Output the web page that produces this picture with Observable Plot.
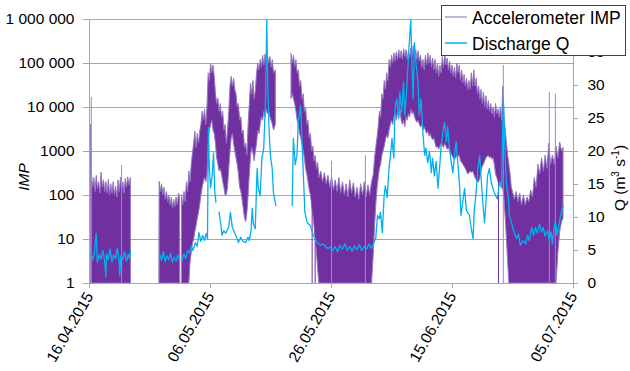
<!DOCTYPE html>
<html><head><meta charset="utf-8">
<script src="https://cdn.jsdelivr.net/npm/d3@7"></script>
<script src="https://cdn.jsdelivr.net/npm/@observablehq/plot@0.6"></script>
<style>
body{margin:0;background:#fff;font-family:"Liberation Sans",Arial,sans-serif;}
#wrap{position:relative;width:630px;height:371px;overflow:hidden;}
</style></head>
<body><div id="wrap"></div>
<script>
// ---- data (days after 16.04.2015) ----
const startDate = Date.UTC(2015, 3, 16);
const xTickDays = [0, 20, 40, 60, 80];
const yTicks = [1, 10, 100, 1000, 10000, 100000, 1000000];
const yTickLabels = ["1", "10", "100", "1000", "10 000", "100 000", "1 000 000"];
const qTicks = [0, 5, 10, 15, 20, 25, 30, 35, 40];
const qTickLabels = [0, 5, 10, 15, 20, 25, 30, 35]; // the "40" label is hidden behind the legend
const seriesNames = ["Accelerometer IMP", "Discharge Q"];

// Accelerometer IMP envelope: [day, upper, lower]
const impBlock1 = [[0.25,4000,1],[0.4,300,1],[0.6,150,1],[0.8,250,1],[1.0,120,1],[1.2,280,1],[1.4,140,1],[1.6,200,1],[1.8,110,1],[2.0,330,1],[2.2,150,1],[2.4,220,1],[2.6,120,1],[2.8,200,1],[3.0,110,1],[3.2,230,1],[3.4,100,1],[3.6,180,1],[3.8,110,1],[4.0,200,1],[4.2,100,1],[4.4,160,1],[4.6,90,1],[4.8,220,1],[5.0,120,1],[5.2,250,1],[5.4,130,1],[5.6,200,1],[5.8,110,1],[6.0,240,1],[6.2,150,1],[6.4,260,1],[6.6,170,1],[6.85,250,1]];
const impBlock2 = [[11.6,200,1],[11.8,120,1],[12.0,180,1],[12.2,100,1],[12.4,150,1],[12.6,80,1],[12.8,120,1],[13.0,70,1],[13.2,100,1],[13.4,60,1],[13.6,90,1],[13.8,50,1],[14.0,80,1],[14.2,55,1],[14.4,90,1],[14.6,60,1],[14.8,110,1],[14.95,90,1]];
const impBlock3 = [[15.3,100,1],[15.5,60,1],[15.7,120,1],[15.9,70,1],[16.1,200,1],[16.3,120,1],[16.5,350,1],[16.7,200,3],[16.9,500,5],[17.1,900,8],[17.3,1500,10],[17.5,2800,15],[17.7,1200,20],[17.9,2500,30],[18.1,1500,40],[18.3,2800,60],[18.5,4000,100],[18.7,8000,150],[18.9,5000,200],[19.1,9000,250],[19.3,4000,200],[19.5,10000,300],[19.7,60000,1500],[19.9,40000,3000],[20.1,100000,4000],[20.3,60000,5000],[20.5,90000,3000],[20.7,50000,2500],[20.9,20000,1500],[21.1,12000,700],[21.3,16000,500],[21.5,8000,350],[21.7,12000,400],[21.9,6000,300],[22.1,8000,200],[22.3,3000,150],[22.5,4000,100],[22.7,1500,100],[22.9,3000,150],[23.1,8000,400],[23.3,30000,1000],[23.5,50000,2000],[23.7,30000,2500],[23.9,45000,1500],[24.1,25000,1000],[24.3,20000,700],[24.5,10000,500],[24.7,12000,300],[24.9,5000,150],[25.1,6000,120],[25.3,2500,80],[25.5,3000,50],[25.7,1200,30],[25.9,1500,25],[26.1,800,40],[26.3,4000,100],[26.5,12000,300],[26.7,35000,800],[26.9,20000,1200],[27.1,40000,900],[27.3,15000,600],[27.5,25000,1000],[27.7,60000,1500],[27.9,100000,3000],[28.1,70000,2500],[28.3,120000,4000],[28.5,80000,6000],[28.7,150000,5000],[28.9,90000,8000],[29.1,160000,6000],[29.3,110000,9000],[29.5,150000,7000],[29.7,100000,8000],[29.9,140000,6000],[30.1,80000,5000],[30.3,120000,4000],[30.5,60000,3000],[30.8,70000,4000]];
const impBlock4 = [[33.4,160000,16000],[33.6,100000,20000],[33.8,150000,15000],[34.0,80000,12000],[34.2,120000,8000],[34.4,60000,5000],[34.6,70000,4000],[34.8,30000,2500],[35.0,40000,2000],[35.2,15000,1500],[35.4,20000,1000],[35.6,8000,700],[35.8,10000,400],[36.0,4000,300],[36.2,5000,200],[36.4,2000,130],[36.6,2500,100],[36.8,1000,60],[37.0,1300,35],[37.2,600,20],[37.4,800,10],[37.6,400,5],[37.8,550,2],[38.0,250,1],[38.3,350,1],[38.6,200,1],[38.9,320,1],[39.2,180,1],[39.5,280,1],[39.8,150,1],[40.1,260,1],[40.4,130,1],[40.7,220,1],[41.0,120,1],[41.3,250,1],[41.6,110,1],[41.9,200,1],[42.2,100,1],[42.5,180,1],[42.8,90,1],[43.1,220,1],[43.4,110,1],[43.7,190,1],[44.0,90,1],[44.3,150,1],[44.6,80,1],[44.9,180,1],[45.2,100,1],[45.5,200,1],[45.8,90,1],[46.1,170,1],[46.4,100,1],[46.7,200,1],[47.0,300,5],[47.2,700,20],[47.4,1200,60],[47.6,2000,140],[47.8,3500,250],[48.0,8000,400],[48.2,6000,500],[48.4,20000,800],[48.6,15000,1000],[48.8,40000,1300],[49.0,25000,1800],[49.2,60000,2300],[49.4,40000,2000],[49.6,120000,3000],[49.8,80000,4000],[50.0,150000,5000],[50.2,100000,4000],[50.4,170000,6000],[50.6,110000,7000],[50.8,180000,5000],[51.0,120000,8000],[51.2,200000,6000],[51.4,130000,9000],[51.6,190000,5000],[51.8,120000,4000],[52.0,210000,5000],[52.2,140000,3500],[52.4,200000,6000],[52.6,120000,5000],[52.8,190000,7000],[53.0,130000,6000],[53.2,220000,9000],[53.4,150000,7000],[53.6,250000,8000],[53.8,140000,6000],[54.0,200000,5000],[54.2,120000,4500],[54.4,190000,5000],[54.6,110000,4000],[54.8,150000,3500],[55.0,80000,4000],[55.2,120000,3000],[55.4,70000,3500],[55.6,150000,3000],[55.8,90000,2500],[56.0,170000,2800],[56.2,100000,2200],[56.4,150000,2500],[56.6,80000,2000],[56.8,130000,1800],[57.0,70000,2000],[57.2,120000,1500],[57.4,60000,1200],[57.6,100000,1300],[57.8,50000,1100],[58.0,90000,1300],[58.2,60000,1500],[58.4,140000,1400],[58.6,80000,1200],[58.8,160000,1500],[59.0,90000,1300],[59.2,130000,1100],[59.4,70000,1200],[59.6,110000,1000],[59.8,60000,900],[60.0,90000,800],[60.2,50000,700],[60.4,80000,650],[60.6,45000,700],[60.8,100000,800],[61.0,60000,750],[61.2,90000,800],[61.4,40000,600],[61.6,70000,550],[61.8,35000,500],[62.0,55000,450],[62.2,30000,400],[62.4,45000,350],[62.6,25000,300],[62.8,40000,320],[63.0,25000,350],[63.2,60000,330],[63.4,30000,350],[63.6,70000,300],[63.8,30000,250],[64.0,45000,220],[64.2,20000,200],[64.4,30000,200],[64.6,15000,250],[64.8,25000,350],[65.0,12000,450],[65.2,22000,500],[65.4,10000,600],[65.6,18000,700],[65.8,9000,750],[66.0,14000,800],[66.2,8000,700],[66.4,12000,750],[66.6,7000,650],[66.8,10000,700],[67.0,6000,500],[67.2,12000,300],[67.4,7000,250],[67.6,9000,200],[67.8,6000,200],[68.0,10000,170],[68.2,5000,150],[68.4,30000,140],[68.6,6000,80],[68.8,3000,30],[69.0,1500,10],[69.2,800,3],[69.4,500,1],[69.6,300,1],[69.8,150,1],[70.0,120,1],[70.3,80,1],[70.6,120,1],[70.9,70,1],[71.2,110,1],[71.5,60,1],[71.8,100,1],[72.1,60,1],[72.4,90,1],[72.7,70,1],[73.0,130,1],[73.3,90,1],[73.6,250,1],[73.9,150,1],[74.2,500,1],[74.5,300,1],[74.8,700,1],[75.1,350,1],[75.4,800,1],[75.7,400,1],[76.0,1500,1],[76.3,500,1],[76.6,800,1],[76.9,500,1],[77.2,1300,1],[77.5,700,5],[77.8,1600,15],[78.1,1000,25],[78.35,1200,30]];
// isolated IMP peaks: [day, peak]
const impPeaks = [[0.3,17000],[5.3,480],[40,600],[45.6,800],[68.4,90000],[76,22000],[77,20000]];
// isolated IMP drops to the baseline: [day, from]
const impDrops = [[36.8,600],[37.3,400],[67.6,3000]];

// Discharge Q (m3/s): [day, Q]
const qSeg1 = [[0.2,4.8],[0.5,3.6],[0.8,4.6],[1.1,7.6],[1.3,3.2],[1.6,4.4],[1.9,3.7],[2.2,5.0],[2.5,3.4],[2.7,1.0],[2.8,4.5],[3.1,3.6],[3.4,5.2],[3.7,3.3],[4.0,4.3],[4.3,3.8],[4.6,5.4],[4.9,3.3],[5.0,1.2],[5.2,4.2],[5.5,3.6],[5.8,4.8],[6.1,3.4],[6.4,4.4],[6.6,3.8],[6.8,5.0]];
const qSeg2 = [[11.6,4.5],[11.9,3.5],[12.2,4.8],[12.5,3.3],[12.8,4.2],[13.1,3.6],[13.4,4.6],[13.7,3.2],[14.0,4.0],[14.3,3.4],[14.6,4.3],[14.9,3.6]];
const qSeg3 = [[15.3,3.5],[15.6,4.5],[15.9,3.8],[16.2,5.0],[16.5,4.6],[16.8,5.6],[17.1,5.0],[17.5,6.2],[17.8,5.6],[18.1,7.7],[18.4,6.4],[18.7,7.3],[19.0,6.5],[19.3,7.6],[19.5,6.8],[19.65,23.6],[19.8,18],[20.0,14.5],[20.3,16.5],[20.5,19.8],[20.7,14.0],[20.9,12.3]];
const qSeg4 = [[21.4,10.8],[21.7,9.0],[21.9,7.3],[22.2,8.0],[22.5,7.6],[23.0,8.5],[23.3,10.8],[23.6,8.5],[24.0,7.7],[24.4,6.8],[24.6,6.2],[25.0,7.0],[25.3,6.4],[25.8,6.2],[26.2,7.0],[26.4,6.5],[26.7,8.0],[26.9,11.4],[27.1,9.0],[27.4,8.3],[27.7,17.4],[27.9,14.5],[28.2,13.3],[28.5,19],[28.8,20.5],[29.1,28],[29.3,40],[29.45,30.4],[29.7,22.9],[29.9,19.4],[30.2,17.4],[30.4,13.8],[30.8,11.8]];
const qSeg5 = [[33.5,11.8],[33.7,22],[34.0,18],[34.3,19.5],[34.5,24.4],[34.9,27],[35.1,22],[35.4,15.3],[35.6,10.8],[36.0,9.2],[36.5,8.8],[37.0,7.3],[37.6,6.2],[38.2,5.8],[38.6,6.0],[39.0,5.6],[39.4,5.3],[39.8,5.5],[40.2,5.0],[40.6,5.6],[41.0,4.8],[41.4,5.8],[41.8,5.2],[42.2,6.0],[42.6,5.0],[43.0,5.6],[43.4,4.9],[43.8,5.7],[44.2,5.1],[44.6,5.9],[45.0,5.0],[45.4,5.6],[45.8,5.2],[46.2,6.0],[46.6,5.3],[47.0,6.2],[47.3,6.8],[47.6,10.3],[47.9,9.8],[48.1,10.8],[48.4,7.7],[48.7,13.3],[48.9,14.8],[49.2,13.0],[49.5,17.4],[49.7,19.0],[50.0,22],[50.3,19],[50.5,26.5],[50.8,28],[51.1,25],[51.3,29],[51.6,26],[51.9,30.5],[52.1,25.5],[52.4,29],[52.8,35.6],[53.1,40],[53.3,33],[53.5,28],[53.7,36.5],[54.0,33],[54.3,30.5],[54.5,25.5],[54.8,28],[55.1,22.9],[55.4,19.4],[55.6,20.5],[55.9,18.3],[56.2,20],[56.5,16.8],[56.7,19],[57.0,16.3],[57.3,18.5],[57.6,14.4],[57.9,18],[58.1,20.5],[58.4,22.9],[58.7,24.4],[59.0,21.5],[59.2,23.8],[59.5,20.5],[59.8,18.3],[60.05,16.8],[60.3,19],[60.6,21.5],[60.9,18],[61.2,14.4],[61.4,10.3],[61.7,12.4],[62.0,14.4],[62.3,11],[62.5,10.8],[62.8,10.3],[63.1,8.3],[63.4,6.8],[63.6,11],[63.9,13.8],[64.2,17.4],[64.5,19.4],[64.7,16.3],[65.0,12.3],[65.3,9.2],[65.6,13.3],[65.8,16.3],[66.1,17.4],[66.4,15.3],[66.7,14.4],[66.9,13.8],[67.4,12.8],[67.8,15.5],[68.1,14.5],[68.4,28],[68.7,19.4],[68.9,15.3],[69.3,12.3],[69.4,10.3],[69.7,9.4],[70.1,8.0],[70.6,6.8],[70.9,7.5],[71.2,5.8],[71.7,6.5],[72.1,6.0],[72.4,7.3],[72.7,6.5],[73.1,8.5],[73.4,7.3],[73.7,8.5],[74.0,7.6],[74.4,9.0],[74.7,7.8],[75.0,8.5],[75.3,7.2],[75.7,8.0],[76.0,6.6],[76.3,7.8],[76.5,6.0],[76.8,8.5],[77.0,9.5],[77.3,7.3],[77.5,8.3],[77.8,10.0],[78.0,10.8],[78.3,11.8]];

// ---- drawing ----
const day = t => new Date(startDate + t * 864e5);
// right axis: Q 0..40 shares the vertical extent of IMP 1..1e6
const qToY = q => Math.pow(10, q * 6 / 40);
const gray = "#a6a6a6";
const purple = "#7030a0";
const purpleLight = "#b49ad6";
const cyan = "#00b0f0";
const yLabel = new Map(yTicks.map((v, i) => [v, yTickLabels[i]]));
const fontFam = '"Liberation Sans", Arial, sans-serif';

const impBlocks = [impBlock1, impBlock2, impBlock3, impBlock4];
const qSegs = [qSeg1, qSeg2, qSeg3, qSeg4, qSeg5];

const plot = Plot.plot({
  width: 630, height: 371,
  marginLeft: 89, marginRight: 57, marginTop: 19, marginBottom: 88,
  style: {fontFamily: fontFam, fontSize: "15.5px", color: "#000", background: "#fff", overflow: "visible"},
  x: {type: "utc", domain: [day(0), day(80)]},
  y: {type: "log", domain: [1, 1e6]},
  marks: [
    Plot.gridY(yTicks, {stroke: gray, strokeOpacity: 1}),
    ...impBlocks.map(b => Plot.areaY(b, {x: d => day(d[0]), y1: d => d[2], y2: d => d[1], fill: purple, stroke: "#9676c2", strokeWidth: 1})),
    Plot.ruleX(impPeaks, {x: d => day(d[0]), y1: 1, y2: d => d[1], stroke: "#a584cc", strokeWidth: 1}),
    Plot.ruleX(impDrops, {x: d => day(d[0]), y1: 1, y2: d => d[1], stroke: purple, strokeWidth: 1}),
    ...qSegs.map(s => Plot.line(s, {x: d => day(d[0]), y: d => qToY(d[1]), stroke: cyan, strokeWidth: 1.3})),
    Plot.ruleY([1], {stroke: gray}),
    Plot.ruleX([day(0), day(80)], {stroke: gray}),
    Plot.axisY(yTicks, {anchor: "left", tickSize: 6, tickPadding: 9, stroke: gray, fill: "#000", tickFormat: d => yLabel.get(d), label: null}),
    // right-hand Q axis: ticks and labels drawn through the shared y scale
    Plot.ruleY(qTicks, {y: qToY, x1: day(80), x2: day(80 + 5 / 6.05), stroke: gray}),
    Plot.text(qTickLabels, {y: qToY, text: d => String(d), frameAnchor: "right", dx: 14, textAnchor: "start", fill: "#000", fontSize: 15.5}),
    Plot.axisX(xTickDays.map(day), {anchor: "bottom", tickSize: 5, tickPadding: 5, tickRotate: -60, stroke: gray, fill: "#000", tickFormat: d3.utcFormat("%d.%m.%Y"), label: null})
  ]
});

const svg = d3.select(plot);
// axis titles
svg.append("text").attr("transform", "translate(29,177) rotate(-90)").attr("text-anchor", "middle")
  .attr("font-style", "italic").attr("fill", "#000").attr("font-size", "15.5px").text("IMP");
const qt = svg.append("text").attr("transform", "translate(625,178) rotate(-90)").attr("text-anchor", "middle")
  .attr("fill", "#000").attr("font-size", "15.5px");
qt.append("tspan").text("Q (m");
qt.append("tspan").attr("font-size", "10px").attr("dy", "-6").text("3");
qt.append("tspan").attr("dy", "6").text(" s");
qt.append("tspan").attr("font-size", "10px").attr("dy", "-6").text("-1");
qt.append("tspan").attr("dy", "6").text(")");
// legend (overlaps the plot's top right corner, as in the reference)
const lg = svg.append("g").attr("text-anchor", "start");
lg.append("rect").attr("x", 441.5).attr("y", 5.5).attr("width", 184).attr("height", 50)
  .attr("fill", "#fff").attr("stroke", "#404040").attr("stroke-width", 1);
[[seriesNames[0], purpleLight, 17, 24], [seriesNames[1], cyan, 43, 50]].forEach(([name, col, ly, by]) => {
  lg.append("line").attr("x1", 445).attr("x2", 467).attr("y1", ly).attr("y2", ly).attr("stroke", col).attr("stroke-width", 1.5);
  lg.append("text").attr("x", 472).attr("y", by).attr("text-anchor", "start").attr("fill", "#000").attr("font-size", "17.5px").text(name);
});

document.getElementById("wrap").appendChild(plot);
</script>
</body></html>
